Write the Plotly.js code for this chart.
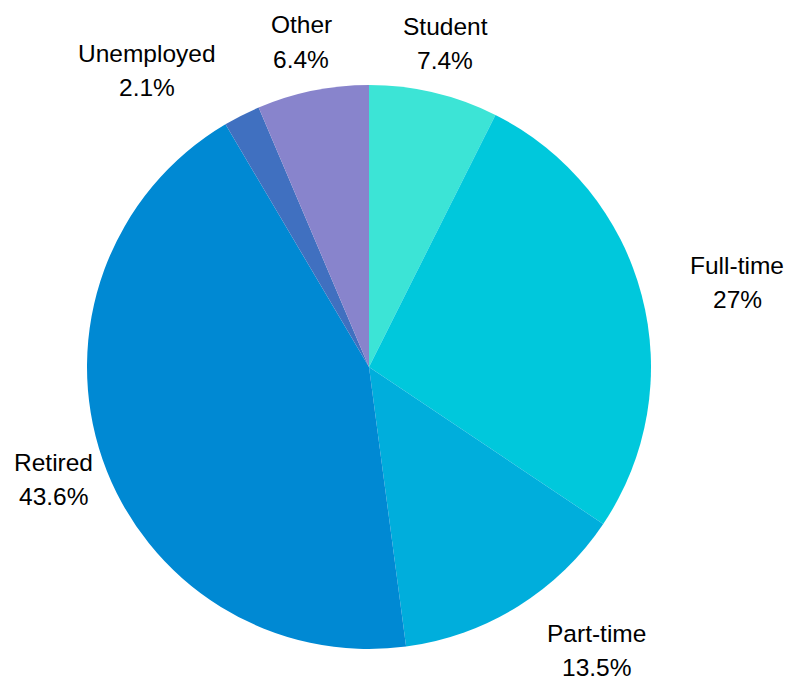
<!DOCTYPE html>
<html>
<head>
<meta charset="utf-8">
<script src="https://cdn.plot.ly/plotly-3.0.1.min.js"></script>
<style>html,body{margin:0;padding:0;background:#fff;}#chart{width:790px;height:679px;}</style>
</head>
<body>
<div id="chart"></div>
<script>
const labels = ["Student", "Full-time", "Part-time", "Retired", "Unemployed", "Other"];
const values = [7.4, 27, 13.5, 43.6, 2.1, 6.4];
const colors = ["#3ce4d6", "#00c8dc", "#00aedc", "#0089d3", "#4070c0", "#8884cc"];

const W = 790, H = 679;
// label block centres in page pixels (text placement only)
const labelSpots = [[445, 43.5], [737, 282.5], [596, 650.5], [53, 479], [147, 71], [301, 42]];
const FONT = {family: "Liberation Sans, Arial, sans-serif", size: 24.5, color: "#000"};

const total = values.reduce((a, b) => a + b, 0);
function pct(v) {
  const p = v / total * 100;
  return (Math.round(p * 10) / 10).toString() + "%";
}

const annotations = [];
labels.forEach((lab, i) => {
  const [cx, cy] = labelSpots[i];
  annotations.push({xref: "paper", yref: "paper", x: cx / W, y: 1 - (cy - 17) / H,
    text: lab, showarrow: false, xanchor: "center", yanchor: "middle", borderpad: 0, font: FONT});
  annotations.push({xref: "paper", yref: "paper", x: cx / W, y: 1 - (cy + 17) / H,
    text: pct(values[i]), showarrow: false, xanchor: "center", yanchor: "middle", borderpad: 0, font: FONT});
});

Plotly.newPlot("chart", [{
  type: "pie",
  labels: labels,
  values: values,
  sort: false,
  direction: "clockwise",
  rotation: 0,
  domain: {x: [87/790, 651/790], y: [30/679, 594/679]},
  marker: {colors: colors, line: {width: 0}},
  textinfo: "none",
  showlegend: false,
  hoverinfo: "label+percent"
}], {
  width: W,
  height: H,
  margin: {l: 0, r: 0, t: 0, b: 0},
  paper_bgcolor: "#fff",
  font: FONT,
  showlegend: false,
  annotations: annotations
}, {displayModeBar: false});
</script>
</body>
</html>
